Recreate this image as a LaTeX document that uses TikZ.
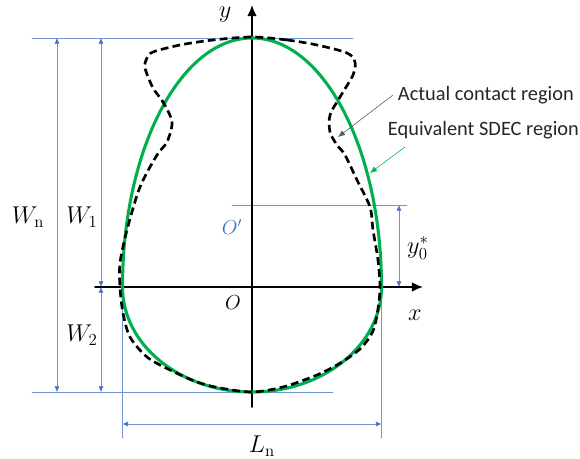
\documentclass[tikz,border=0pt]{standalone}
\usepackage{fontspec}
\newfontfamily\calibri{Carlito}
\usetikzlibrary{arrows.meta}
\definecolor{dimblue}{RGB}{68,114,196}
\definecolor{sdecgreen}{RGB}{0,176,80}
\begin{document}
\begin{tikzpicture}[x=0.25cm, y=0.25cm, line cap=round, line join=round, >={Latex[length=8pt,width=7pt]},
  dim/.style={dimblue!75, line width=0.4pt},
  dimarr/.style={dim, {Latex[length=4pt,width=3.5pt,color=dimblue]}-{Latex[length=4pt,width=3.5pt,color=dimblue]}},
  lab/.style={font=\LARGE},
  note/.style={anchor=west, font=\calibri\fontsize{14.5}{17}\selectfont, text=black!85}]
\useasboundingbox (-25.2,-17.2) rectangle (32.8,28.7);
\def\a{12.95} \def\bt{24.9} \def\bb{10.5}
\path (0,0)coordinate(O) (\a,0)coordinate(R) (-\a,0)coordinate(L) (0,8.2)coordinate(Op)
  (-22,\bt)coordinate(tl) (10.1,\bt)coordinate(tr) (-22,-\bb)coordinate(bl) (8.1,-\bb)coordinate(br)
  (-19.5,\bt)coordinate(wnt) (-19.5,-\bb)coordinate(wnb) (-15.1,\bt)coordinate(w1t) (-15.1,0)coordinate(w1b) (-15.1,-\bb)coordinate(w2b)
  (-\a,-15.1)coordinate(lnl) (\a,-15.1)coordinate(lnr) (-\a,-13.7)coordinate(lna) (\a,-13.7)coordinate(lnb)
  (-2,8.2)coordinate(opl) (15.5,8.2)coordinate(opr) (14.7,8.2)coordinate(y0t) (14.7,0)coordinate(y0b)
  (-15.7,0)coordinate(xs) (17.1,0)coordinate(xe) (0,-12)coordinate(ys) (0,28.2)coordinate(ye);
% dimensions
\draw[dim] (tl)--(tr) (bl)--(br) (L)--(lnl) (R)--(lnr) (opl)--(opr);
\draw[dimarr] (wnt)--(wnb);
\draw[dimarr] (w1t)--(w1b);
\draw[dimarr] (w1b)--(w2b);
\draw[dimarr] (lna)--(lnb);
\draw[dimarr] (y0t)--(y0b);
% axes
\draw[->, line width=1.2pt] (xs)--(xe);
\draw[->, line width=1.2pt] (ys)--(ye);
% regions
\draw[sdecgreen, line width=2.2pt] (R) arc[start angle=0, end angle=180, x radius=\a, y radius=\bt]
  arc[start angle=180, end angle=360, x radius=\a, y radius=\bb] -- cycle;
\draw[line width=1.9pt, dash pattern=on 5.5pt off 3pt, line cap=butt] plot[smooth cycle, tension=0.5] coordinates {
  (0,25.0) (3.5,24.7) (6.5,24.2) (9.5,23.4) (10.3,22.5) (10.1,21.2) (8.8,19.0) (7.8,17.2) (7.8,15.5) (8.5,14.2)
  (9.3,13.2) (10.5,10.7) (11.8,8.0) (12.1,5.7) (12.6,2.7) (12.8,0) (12.6,-2.2) (12.1,-4.4) (10.9,-6.1)
  (9.0,-7.5) (6.5,-8.8) (3.1,-10.0) (0,-10.5) (-3.2,-10.1) (-5.5,-9.5) (-8.2,-8.3) (-10.5,-7.0) (-12.2,-5.0)
  (-12.9,-2.6) (-13.2,0) (-13.2,2.4) (-12.5,5.7) (-11.2,10.0) (-9.5,13.2) (-8.5,14.5) (-8.0,16.5) (-8.9,18.5)
  (-9.9,19.9) (-10.7,21.9) (-10.5,22.9) (-9.9,23.5) (-7.2,24.2) (-3.9,24.7)};
% labels
\node[lab] (ylab) at (-2.7,27.2) {$y$};
\node[lab] (xlab) at (16.3,-2.8) {$x$};
\node[font=\Large] (olab) at (-1.9,-1.6) {$O$};
\node[font=\Large, text=dimblue] (oplab) at (-2.0,6.0) {$O'$};
\node[lab] (wnlab) at (-22.4,7.0) {$W_{\mathrm{n}}$};
\node[lab] (w1lab) at (-17.0,7.0) {$W_1$};
\node[lab] (w2lab) at (-17.0,-4.8) {$W_2$};
\node[lab] (lnlab) at (1.0,-15.9) {$L_{\mathrm{n}}$};
\node[lab] (y0lab) at (16.6,3.9) {$y_0^*$};
\node[note] (actual) at (14.1,19.2) {Actual contact region};
\node[note] (equiv) at (13.1,15.7) {Equivalent SDEC region};
\coordinate (acthead) at (8.6,15.0);
\coordinate (eqtail) at (15.3,14.0);
\coordinate (eqhead) at (11.8,11.4);
\draw[black!65, line width=0.4pt, -{Latex[length=5pt,width=4pt]}] (actual.west)--(acthead);
\draw[sdecgreen, line width=0.4pt, -{Latex[length=5pt,width=4pt]}] (eqtail)--(eqhead);
\end{tikzpicture}
\end{document}
